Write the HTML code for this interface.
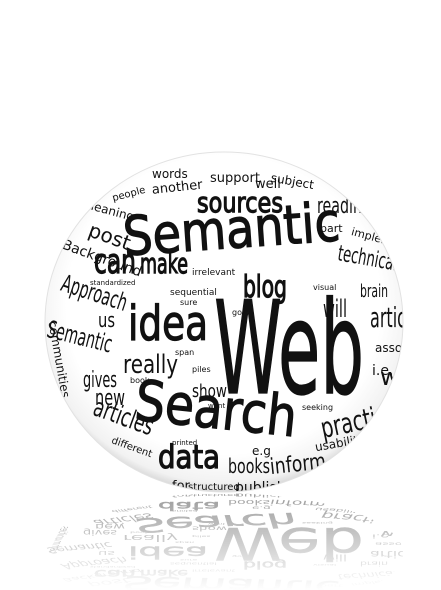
<!DOCTYPE html>
<html><head><meta charset="utf-8"><style>
html,body{margin:0;padding:0;background:#fff;width:441px;height:590px;overflow:hidden}
text{font-family:"DejaVu Sans","Liberation Sans",sans-serif;fill:#111}
.b{stroke:#111;stroke-width:1.2}
</style></head><body>
<svg width="441" height="590" viewBox="0 0 441 590" xmlns="http://www.w3.org/2000/svg">
<defs>
<radialGradient id="sph" cx="50%" cy="45%" r="55%">
<stop offset="0.8" stop-color="#fff"/><stop offset="0.95" stop-color="#f2f2f2"/><stop offset="1" stop-color="#d8d8d8"/>
</radialGradient>
<clipPath id="clip"><ellipse cx="224" cy="322" rx="179" ry="170"/></clipPath>
<linearGradient id="fade" x1="0" y1="0" x2="0" y2="1">
<stop offset="0" stop-color="#fff" stop-opacity="0.3"/><stop offset="1" stop-color="#fff" stop-opacity="1"/>
</linearGradient>
</defs>
<rect width="441" height="590" fill="#fff"/>
<g id="reflection"></g>
<rect x="0" y="493" width="441" height="97" fill="url(#fade)"/>
<ellipse cx="224" cy="322" rx="179" ry="170" fill="url(#sph)"/>
<g id="cloud" clip-path="url(#clip)">
<text class="b" x="123" y="248" font-size="54" textLength="217" lengthAdjust="spacingAndGlyphs" transform="rotate(-4 230 230)">Semantic</text>
<text class="b" x="214" y="393" font-size="128" textLength="150" lengthAdjust="spacingAndGlyphs">Web</text>
<text class="b" x="128" y="340" font-size="48" textLength="80" lengthAdjust="spacingAndGlyphs">idea</text>
<text class="b" x="135" y="428" font-size="56" textLength="162" lengthAdjust="spacingAndGlyphs" transform="rotate(6 215 410)">Search</text>
<text class="b" x="197" y="212" font-size="28" textLength="86" lengthAdjust="spacingAndGlyphs">sources</text>
<text class="b" x="94" y="273" font-size="34" textLength="42" lengthAdjust="spacingAndGlyphs">can</text>
<text class="b" x="140" y="273" font-size="28" textLength="48" lengthAdjust="spacingAndGlyphs">make</text>
<text class="b" x="243" y="297" font-size="30" textLength="44" lengthAdjust="spacingAndGlyphs">blog</text>
<text x="58" y="300" font-size="24" textLength="68" lengthAdjust="spacingAndGlyphs" transform="rotate(18 90 300)">Approach</text>
<text x="46" y="345" font-size="24" textLength="66" lengthAdjust="spacingAndGlyphs" transform="rotate(14 80 340)">Semantic</text>
<text x="123" y="373" font-size="26" textLength="55" lengthAdjust="spacingAndGlyphs">really</text>
<text x="83" y="387" font-size="22" textLength="34" lengthAdjust="spacingAndGlyphs">gives</text>
<text x="192" y="397" font-size="18" textLength="35" lengthAdjust="spacingAndGlyphs">show</text>
<text x="95" y="405" font-size="22" textLength="30" lengthAdjust="spacingAndGlyphs">new</text>
<text x="88" y="425" font-size="26" textLength="62" lengthAdjust="spacingAndGlyphs" transform="rotate(20 120 430)">articles</text>
<text class="b" x="158" y="468" font-size="32" textLength="62" lengthAdjust="spacingAndGlyphs">data</text>
<text x="228" y="473" font-size="20" textLength="42" lengthAdjust="spacingAndGlyphs">books</text>
<text x="270" y="471" font-size="22" textLength="56" lengthAdjust="spacingAndGlyphs" transform="rotate(-6 300 465)">inform</text>
<text x="320" y="430" font-size="28" textLength="84" lengthAdjust="spacingAndGlyphs" transform="rotate(-12 360 420)">practical</text>
<text x="337" y="265" font-size="22" textLength="60" lengthAdjust="spacingAndGlyphs" transform="rotate(10 365 262)">technical</text>
<text x="317" y="213" font-size="22" textLength="45" lengthAdjust="spacingAndGlyphs">readin</text>
<text x="323" y="317" font-size="24" textLength="24" lengthAdjust="spacingAndGlyphs">will</text>
<text x="360" y="297" font-size="18" textLength="28" lengthAdjust="spacingAndGlyphs">brain</text>
<text x="370" y="327" font-size="28" textLength="36" lengthAdjust="spacingAndGlyphs">artic</text>
<text x="98" y="327" font-size="20" textLength="17" lengthAdjust="spacingAndGlyphs">us</text>
<text x="88" y="240" font-size="20" transform="rotate(20 100 235)">post</text>
<text x="60" y="255" font-size="14" transform="rotate(20 80 255)">Background</text>
<text x="152" y="178" font-size="12">words</text>
<text x="210" y="182" font-size="13">support</text>
<text x="255" y="188" font-size="13">well</text>
<text x="152" y="192" font-size="13" transform="rotate(-6 170 190)">another</text>
<text x="270" y="185" font-size="12" transform="rotate(10 290 185)">subject</text>
<text x="112" y="198" font-size="10" transform="rotate(-15 125 195)">people</text>
<text x="82" y="212" font-size="12" transform="rotate(15 100 210)">meaning</text>
<text x="320" y="232" font-size="11">part</text>
<text x="350" y="240" font-size="11" transform="rotate(15 370 240)">implement</text>
<text x="192" y="275" font-size="9" fill="#444">irrelevant</text>
<text x="90" y="285" font-size="7" fill="#444">standardized</text>
<text x="170" y="295" font-size="9" fill="#444">sequential</text>
<text x="180" y="305" font-size="8" fill="#444">sure</text>
<text x="232" y="315" font-size="8" fill="#444">go</text>
<text x="313" y="290" font-size="8" fill="#444">visual</text>
<text x="175" y="355" font-size="8" fill="#444">span</text>
<text x="192" y="372" font-size="8" fill="#444">piles</text>
<text x="130" y="383" font-size="8" fill="#444">book</text>
<text x="208" y="408" font-size="7" fill="#444">wont</text>
<text x="302" y="410" font-size="8" fill="#444">seeking</text>
<text x="372" y="375" font-size="14">i.e.</text>
<text x="380" y="385" font-size="24">wa</text>
<text x="375" y="352" font-size="12">associ</text>
<text x="315" y="447" font-size="12" transform="rotate(-10 340 445)">usability</text>
<text x="252" y="455" font-size="12">e.g</text>
<text x="110" y="448" font-size="10" transform="rotate(20 125 448)">different</text>
<text x="172" y="490" font-size="13">for</text>
<text x="188" y="490" font-size="10">structured</text>
<text x="235" y="492" font-size="14">publish</text>
<text x="172" y="445" font-size="7" fill="#444">printed</text>
<text x="50" y="340" font-size="12" transform="rotate(80 60 330)">communities</text>
</g>
<ellipse cx="224" cy="322" rx="179" ry="170" fill="none" stroke="#e2e2e2" stroke-width="1"/>
</svg>
<script>
var src=document.getElementById('cloud');
var ref=document.getElementById('reflection');
var c=src.cloneNode(true);
c.removeAttribute('id');


c.setAttribute('transform','translate(0,493) scale(1,-0.35) translate(0,-493)');
c.setAttribute('opacity','0.6');
ref.appendChild(c);
</script>
</body></html>
